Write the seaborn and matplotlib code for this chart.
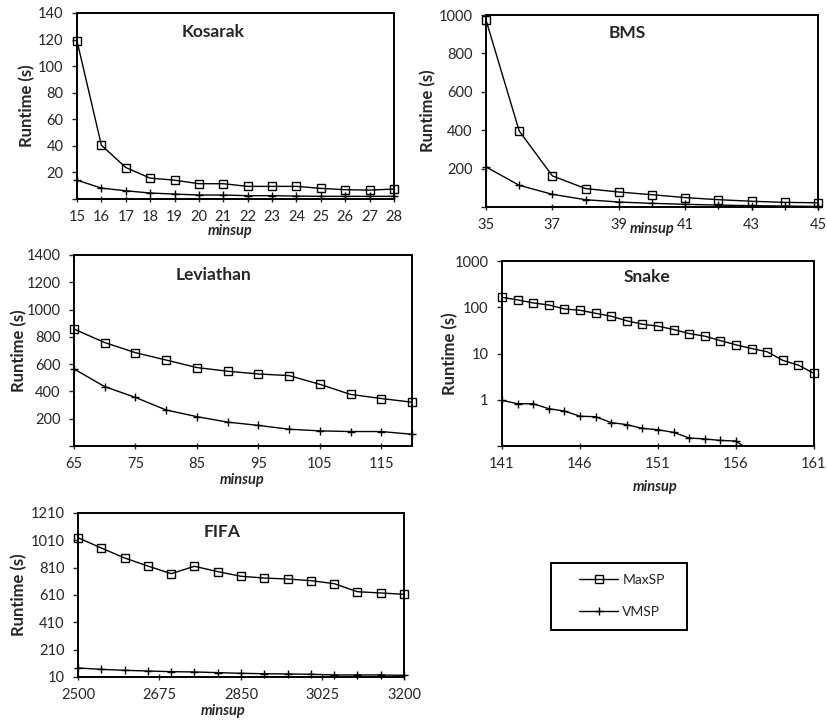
import matplotlib
matplotlib.use('Agg')
import matplotlib.pyplot as plt
import seaborn as sns
from matplotlib.lines import Line2D
from matplotlib.patches import Rectangle

sns.set_style('ticks')
plt.rcParams['font.family'] = ['Lato', 'DejaVu Sans']

# ---------------- data ----------------
kosarak_minsup = list(range(15, 29))
kosarak_maxsp = [119, 40.5, 23.7, 15.7, 14.2, 11.5, 11.5, 9.5, 9.5, 9.5, 8, 7, 6.7, 7.5]
kosarak_vmsp = [14.2, 8.2, 6.2, 4.5, 3.7, 3, 3, 2.5, 2.5, 2.2, 2, 2, 2, 2]

bms_minsup = list(range(35, 46))
bms_maxsp = [974, 396, 162, 96, 78, 64, 49, 38, 30, 24, 22]
bms_vmsp = [209, 113, 66, 38, 26, 19, 14, 10, 7, 5, 3]

lev_minsup = list(range(65, 121, 5))
lev_maxsp = [857, 758, 684, 630, 575, 548, 528, 516, 452, 378, 348, 321]
lev_vmsp = [565, 435, 356, 264, 215, 175, 151, 123, 111, 106, 106, 86]

snake_minsup = list(range(141, 162))
snake_maxsp = [164, 144, 124, 112, 92, 86, 74, 64, 51, 43, 39, 33, 27, 23.7, 19,
               15.4, 12.8, 10.9, 7.1, 5.6, 3.7]
snake_vmsp = [0.97, 0.82, 0.82, 0.64, 0.57, 0.44, 0.43, 0.32, 0.29, 0.24, 0.225,
              0.197, 0.149, 0.142, 0.132, 0.128, 0.075]

fifa_minsup = list(range(2500, 3201, 50))
fifa_maxsp = [1029, 954, 881, 822, 766, 820, 781, 747, 734, 727, 715, 693, 634, 625, 615]
fifa_vmsp = [76, 66, 59, 54, 49, 47, 42, 37, 34, 32, 30, 25, 25, 25, 22]

series_names = ['MaxSP', 'VMSP']

W, H = 828, 724
fig = plt.figure(figsize=(W / 100, H / 100), dpi=100)
fig.patch.set_facecolor('white')

SQ = dict(marker='s', markersize=5.5, markerfacecolor='none',
          markeredgecolor='black', markeredgewidth=1.0)
PL = dict(marker='+', markersize=6, markeredgewidth=1.0, markeredgecolor='black')


def make_ax(l, r, t, b):
    return fig.add_axes([l / W, 1 - b / H, (r - l) / W, (b - t) / H])


def draw(ax, x, ymax, yvmsp, title, tpos, lpos, ylx, clip_vmsp=False):
    sns.lineplot(x=x, y=ymax, ax=ax, color='black', lw=1.0, clip_on=False,
                 legend=False, zorder=3, **SQ)
    sns.lineplot(x=x[:len(yvmsp)], y=yvmsp, ax=ax, color='black', lw=1.0,
                 clip_on=clip_vmsp, legend=False, zorder=3, **PL)
    for s in ax.spines.values():
        s.set_visible(True)
        s.set_color('black')
        s.set_linewidth(1.4)
    ax.set_facecolor('white')
    ax.grid(False)
    ax.text(tpos[0], tpos[1], title, transform=ax.transAxes, ha='center', va='center',
            fontsize=12.5, fontweight='bold')
    ax.set_ylabel('Runtime (s)', fontsize=12, fontweight='bold')
    ax.yaxis.set_label_coords(ylx, 0.5)
    ax.yaxis.label.set_va('center')
    ax.set_xlabel('minsup', fontsize=10.5, fontweight='bold', style='italic')
    ax.xaxis.set_label_coords(lpos[0], lpos[1])
    ax.xaxis.label.set_va('center')
    ax.tick_params(axis='x', direction='inout', length=4.3, width=1, pad=5.5,
                   labelsize=10.5, top=False)
    ax.tick_params(axis='y', direction='out', length=3.6, width=1, pad=6,
                   labelsize=10.5, right=False)


# Kosarak
ax1 = make_ax(77, 394, 13, 199)
draw(ax1, kosarak_minsup, kosarak_maxsp, kosarak_vmsp, 'Kosarak', (0.429, 0.898),
     (0.483, -0.172), -0.158)
ax1.set_xlim(15, 28)
ax1.set_ylim(0, 140)
ax1.set_xticks(kosarak_minsup)
ax1.set_yticks(range(0, 141, 20), [''] + [str(v) for v in range(20, 141, 20)])

# BMS
ax2 = make_ax(486, 818, 15, 207)
draw(ax2, bms_minsup, bms_maxsp, bms_vmsp, 'BMS', (0.425, 0.906), (0.5, -0.115), -0.175)
ax2.set_xlim(35, 45)
ax2.set_ylim(0, 1000)
ax2.set_xticks(range(35, 46, 2))
ax2.set_yticks(range(0, 1001, 200), [''] + [str(v) for v in range(200, 1001, 200)])

# Leviathan
ax3 = make_ax(74, 412, 255, 446)
draw(ax3, lev_minsup, lev_maxsp, lev_vmsp, 'Leviathan', (0.414, 0.895), (0.497, -0.178),
     -0.163)
ax3.set_xlim(65, 120)
ax3.set_ylim(0, 1400)
ax3.set_xticks(range(65, 116, 10))
ax3.set_yticks(range(0, 1401, 200), [''] + [str(v) for v in range(200, 1401, 200)])

# Snake
ax4 = make_ax(502, 814, 261, 446)
ax4.set_yscale('log')
draw(ax4, snake_minsup, snake_maxsp, snake_vmsp, 'Snake', (0.465, 0.914), (0.49, -0.22),
     -0.167, clip_vmsp=True)
ax4.set_xlim(141, 161)
ax4.set_ylim(0.1, 1000)
ax4.set_xticks(range(141, 162, 5))
ax4.set_yticks([0.1, 1, 10, 100, 1000], ['', '1', '10', '100', '1000'])
ax4.minorticks_off()

# FIFA
ax5 = make_ax(78, 404, 513, 677)
draw(ax5, fifa_minsup, fifa_maxsp, fifa_vmsp, 'FIFA', (0.442, 0.884), (0.445, -0.207),
     -0.181)
ax5.set_xlim(2500, 3200)
ax5.set_ylim(10, 1210)
ax5.set_xticks(range(2500, 3201, 175))
ax5.set_yticks(range(10, 1211, 200))

# Legend (box drawn as a frame rectangle, entries via fig.legend)
fig.patches.append(Rectangle((551 / W, 1 - 630 / H), 136 / W, 67 / H,
                             transform=fig.transFigure, facecolor='none',
                             edgecolor='black', linewidth=1.4))
handles = [Line2D([], [], color='black', lw=1.0, **SQ),
           Line2D([], [], color='black', lw=1.0, **PL)]
leg = fig.legend(handles, series_names, loc='center',
                 bbox_to_anchor=(622 / W, 1 - 596 / H), frameon=False, fontsize=10,
                 handlelength=2.8, labelspacing=1.45, borderpad=0,
                 handletextpad=0.3, borderaxespad=0)

fig.savefig('out.png', dpi=100, facecolor='white')
